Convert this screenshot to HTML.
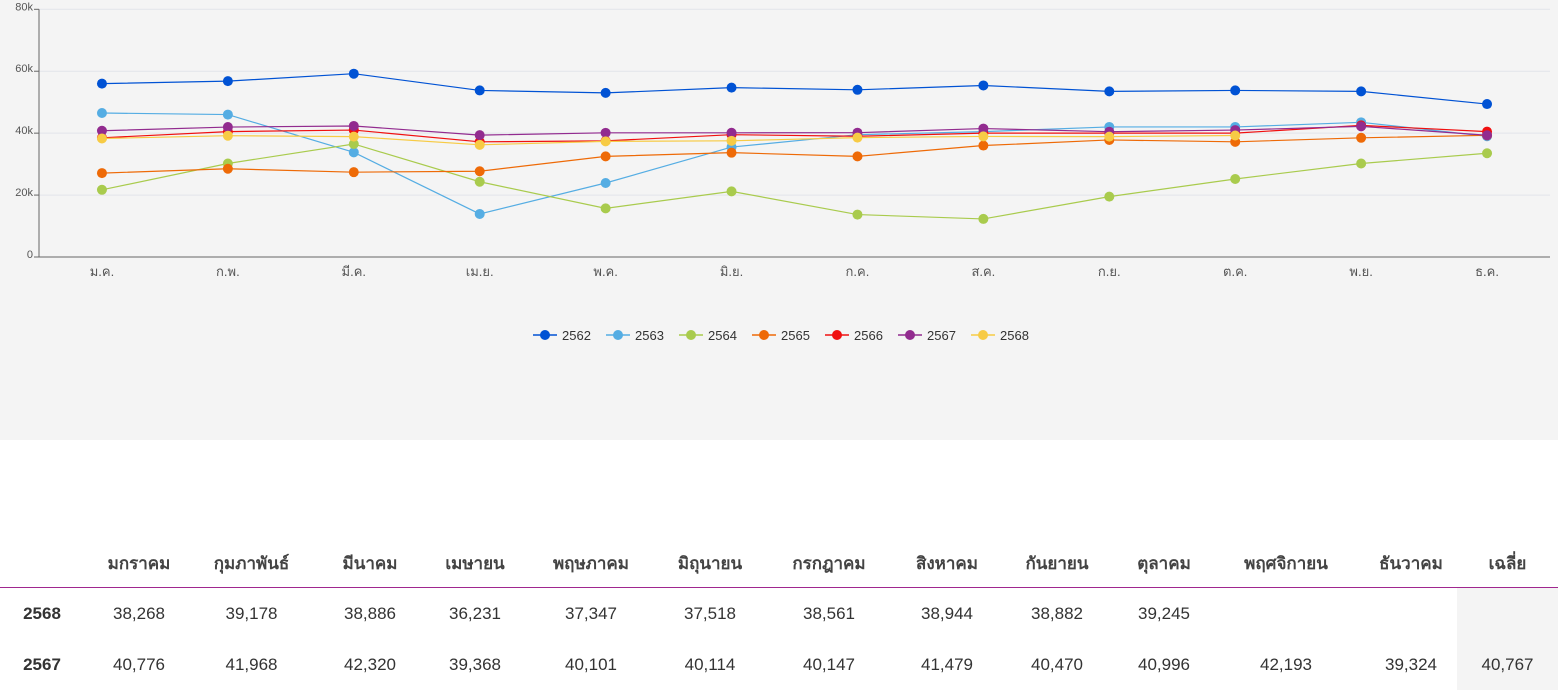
<!DOCTYPE html>
<html><head><meta charset="utf-8">
<style>
body{margin:0;width:1558px;height:691px;overflow:hidden;background:#fff;font-family:"Liberation Sans","DejaVu Sans",sans-serif;}
#chart{position:absolute;left:0;top:0;width:1558px;height:440px;background:#f4f4f4;}
table{position:absolute;left:0;top:540px;border-collapse:collapse;font-size:17px;color:#333;table-layout:fixed;width:1558px;}
th,td{height:51px;text-align:center;padding:0;}
th{font-weight:bold;color:#444;border-bottom:1px solid #a0278f;height:47px;}
td.lab{font-weight:bold;}
td.avg{background:#f4f4f4;}
</style></head><body>
<svg id="chart" width="1558" height="440"></svg>
<table>
<tr><th style="width:84px"></th><th style="width:110px">มกราคม</th><th style="width:115px">กุมภาพันธ์</th><th style="width:122px">มีนาคม</th><th style="width:88px">เมษายน</th><th style="width:144px">พฤษภาคม</th><th style="width:94px">มิถุนายน</th><th style="width:144px">กรกฎาคม</th><th style="width:92px">สิงหาคม</th><th style="width:128px">กันยายน</th><th style="width:86px">ตุลาคม</th><th style="width:158px">พฤศจิกายน</th><th style="width:92px">ธันวาคม</th><th style="width:101px">เฉลี่ย</th></tr>
<tr><td class="lab">2568</td><td>38,268</td><td>39,178</td><td>38,886</td><td>36,231</td><td>37,347</td><td>37,518</td><td>38,561</td><td>38,944</td><td>38,882</td><td>39,245</td><td></td><td></td><td class="avg"></td></tr>
<tr><td class="lab">2567</td><td>40,776</td><td>41,968</td><td>42,320</td><td>39,368</td><td>40,101</td><td>40,114</td><td>40,147</td><td>41,479</td><td>40,470</td><td>40,996</td><td>42,193</td><td>39,324</td><td class="avg">40,767</td></tr>
</table>
<script>
const months=["ม.ค.","ก.พ.","มี.ค.","เม.ย.","พ.ค.","มิ.ย.","ก.ค.","ส.ค.","ก.ย.","ต.ค.","พ.ย.","ธ.ค."];
const yTicks=[0,20000,40000,60000,80000];
const yTickLabels=["0","20k","40k","60k","80k"];
const seriesNames=["2562","2563","2564","2565","2566","2567","2568"];
const s2562=[56000,56800,59200,53800,53000,54700,54000,55400,53500,53800,53500,49400];
const s2563=[46500,46000,33800,13900,23900,35500,39500,40500,42000,42000,43500,39000];
const s2564=[21700,30200,36500,24300,15700,21200,13700,12300,19500,25200,30200,33500];
const s2565=[27100,28500,27400,27700,32500,33700,32500,36000,37800,37200,38500,39300];
const s2566=[38500,40500,41000,37200,37500,39500,39000,40000,40000,40000,42500,40500];
const s2567=[40776,41968,42320,39368,40101,40114,40147,41479,40470,40996,42193,39324];
const s2568=[38268,39178,38886,36231,37347,37518,38561,38944,38882,39245];
const colors=["#0052d4","#55ade3","#a9cb4d","#ee6a07","#f01010","#922b8f","#f7cb45"];
const allSeries=[s2562,s2563,s2564,s2565,s2566,s2567,s2568];
const svg=document.getElementById('chart');const NS="http://www.w3.org/2000/svg";
const L=39,R=1550,T=9.3,B=257;
const x=i=>L+(R-L)/months.length*(i+0.5);
const y=v=>B-(v/80000)*(B-T);
function mk(t,a){const e=document.createElementNS(NS,t);for(const k in a)e.setAttribute(k,a[k]);svg.appendChild(e);return e;}
yTicks.forEach((v,i)=>{
 if(v>0){const g=mk('line',{x1:L,x2:R,y1:y(v),y2:y(v),stroke:'#e2e3ea','stroke-width':1});
 
 }
 const tk=mk('line',{x1:L-5,x2:L,y1:y(v),y2:y(v),stroke:'#666'});
 
 
 const t=mk('text',{x:L-6,y:y(v)+1,'text-anchor':'end','font-size':11,fill:'#555'});t.textContent=yTickLabels[i];
 
 
});
const ax=mk('line',{x1:L,x2:L,y1:T,y2:B,stroke:'#666'});


const xa=mk('line',{x1:L,x2:R,y1:B,y2:B,stroke:'#666'});


months.forEach((m,i)=>{const t=mk('text',{x:x(i),y:276,'text-anchor':'middle','font-size':13,fill:'#555'});t.textContent=m;
 
 });
allSeries.forEach((s,k)=>{
 const p=mk('polyline',{points:s.map((v,i)=>x(i)+','+y(v)).join(' '),fill:'none',stroke:colors[k],'stroke-width':1.2});
 
 
 s.forEach((v,i)=>{const c=mk('circle',{cx:x(i),cy:y(v),r:5,fill:colors[k]});
 
 });
});
const lw=[73,73,73,73,73,73,73];let lx=533;
seriesNames.forEach((n,k)=>{
 const g=mk('line',{x1:lx,x2:lx+24,y1:335,y2:335,stroke:colors[k],'stroke-width':1.5});
 
 
 const c=mk('circle',{cx:lx+12,cy:335,r:5,fill:colors[k]});
 
 
 const t=mk('text',{x:lx+29,y:340,'font-size':13,fill:'#333'});t.textContent=n;
 
 
 lx+=lw[k];
});
</script>
</body></html>
